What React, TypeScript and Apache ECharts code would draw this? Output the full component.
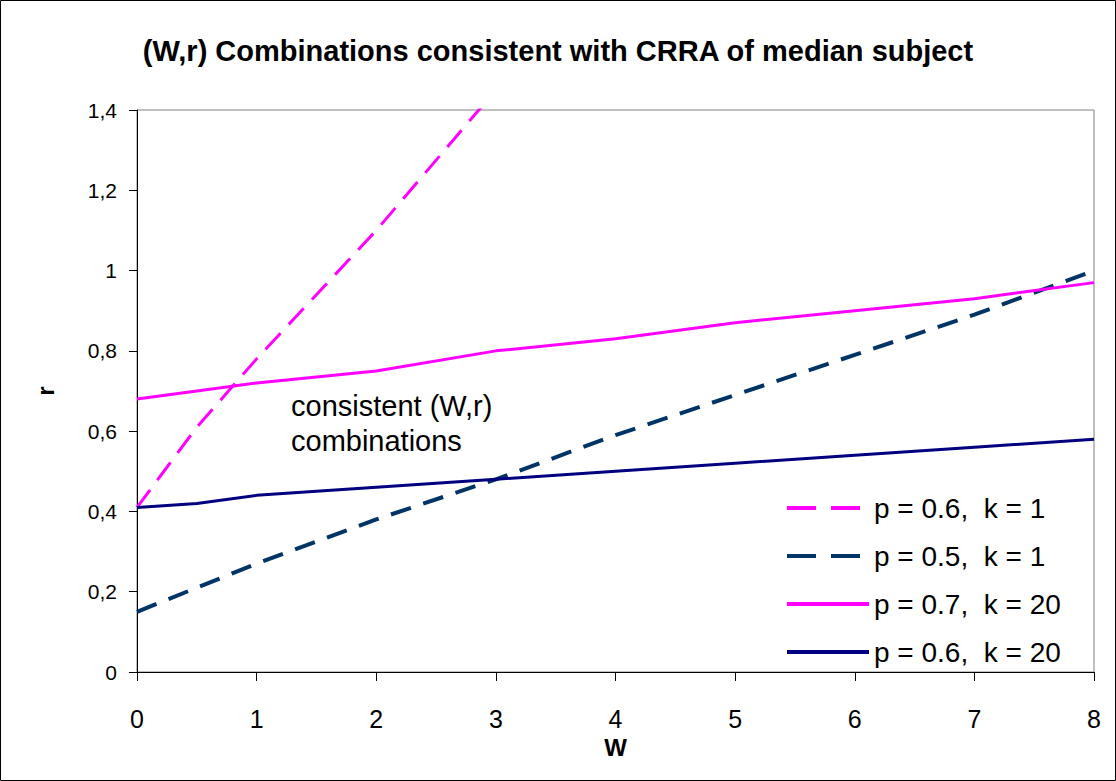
import React, { useEffect, useRef } from "react";
import * as echarts from "echarts";

const wealth = [0, 0.5, 1, 2, 3, 4, 5, 6, 7, 8];
const seriesNames = ["p = 0.6,  k = 1", "p = 0.5,  k = 1", "p = 0.7,  k = 20", "p = 0.6,  k = 20"];
const p06k1 = [0.41, 0.61, 0.78, 1.1, 1.45];
const p05k1 = [0.15, 0.21, 0.27, 0.38, 0.48, 0.59, 0.69, 0.79, 0.89, 1.0];
const p07k20 = [0.68, 0.7, 0.72, 0.75, 0.8, 0.83, 0.87, 0.9, 0.93, 0.97];
const p06k20 = [0.41, 0.42, 0.44, 0.46, 0.48, 0.5, 0.52, 0.54, 0.56, 0.58];
const titleText = "(W,r) Combinations consistent with CRRA of median subject";
const annotationText = "consistent (W,r)\ncombinations";

const FONT = "'Liberation Sans', Arial, sans-serif";

const pairs = (vals: number[]) => vals.map((v, i) => [wealth[i], v]);

export default function App() {
  const ref = useRef<HTMLDivElement>(null);
  useEffect(() => {
    if (!ref.current) return;
    const chart = echarts.init(ref.current, undefined, { renderer: "svg" });
    const colors = ["#FF00FF", "#003366", "#FF00FF", "#000080"];
    const dashes: any[] = [[22, 12], [21, 13], "solid", "solid"];
    const legendDashes: any[] = [[29, 15], [29, 15], "solid", "solid"];
    const widths = [3, 4, 3, 3];
    const legendWidths = [4, 4, 4, 4];
    const data = [p06k1, p05k1, p07k20, p06k20];
    chart.setOption({
      animation: false,
      backgroundColor: "#ffffff",
      title: {
        text: titleText,
        left: "center",
        top: 31,
        textStyle: { fontFamily: FONT, fontSize: 29, fontWeight: "bold", color: "#000" },
      },
      grid: {
        left: 137,
        top: 110,
        right: 22,
        bottom: 109,
        show: true,
        borderColor: "#808080",
        borderWidth: 1,
        backgroundColor: "#ffffff",
      },
      legend: {
        orient: "vertical",
        left: 780,
        top: 488,
        itemWidth: 82,
        itemHeight: 14,
        itemGap: 18,
        data: seriesNames.map((name, i) => ({
          name,
          lineStyle: { type: legendDashes[i], width: legendWidths[i], color: colors[i] },
        })),
        itemStyle: { opacity: 0 },
        textStyle: { fontFamily: FONT, fontSize: 28, color: "#000", lineHeight: 30 },
      },
      xAxis: {
        type: "value",
        min: 0,
        max: 8,
        interval: 1,
        name: "W",
        nameLocation: "middle",
        nameGap: 63,
        nameTextStyle: { fontFamily: FONT, fontSize: 24, fontWeight: "bold", color: "#000" },
        axisLine: { lineStyle: { color: "#000", width: 1 } },
        axisTick: { show: true, length: 9, lineStyle: { color: "#000" } },
        axisLabel: { margin: 34, fontFamily: FONT, fontSize: 25, color: "#000" },
        splitLine: { show: false },
      },
      yAxis: {
        type: "value",
        min: 0,
        max: 1.4,
        interval: 0.2,
        name: "r",
        nameLocation: "middle",
        nameRotate: 90,
        nameGap: 80,
        nameTextStyle: { fontFamily: FONT, fontSize: 24, fontWeight: "bold", color: "#000" },
        axisLine: { show: true, lineStyle: { color: "#000", width: 1 } },
        axisTick: { show: true, length: 8, lineStyle: { color: "#000" } },
        axisLabel: {
          margin: 20,
          fontFamily: FONT,
          fontSize: 21,
          color: "#000",
          formatter: (v: number) => String(Math.round(v * 10) / 10).replace(".", ","),
        },
        splitLine: { show: false },
      },
      graphic: [
        {
          type: "rect",
          shape: { x: 0.5, y: 0.5, width: 1115, height: 780 },
          style: { fill: "none", stroke: "#000", lineWidth: 1 },
          silent: true,
        },
        {
          type: "text",
          left: 291,
          top: 388,
          style: {
            text: annotationText,
            font: `29px ${FONT}`,
            fill: "#000",
            lineHeight: 35,
          },
        },
      ],
      series: seriesNames.map((name, i) => ({
        name,
        type: "line",
        data: pairs(data[i]),
        symbol: "none",
        showSymbol: false,
        clip: true,
        z: 3 + i,
        lineStyle: { color: colors[i], width: widths[i], type: dashes[i] },
        itemStyle: { color: colors[i] },
      })),
    });
    return () => chart.dispose();
  }, []);
  return (
    <div
      ref={ref}
      style={{ position: "absolute", left: 0, top: 0, width: 1116, height: 781 }}
    />
  );
}
